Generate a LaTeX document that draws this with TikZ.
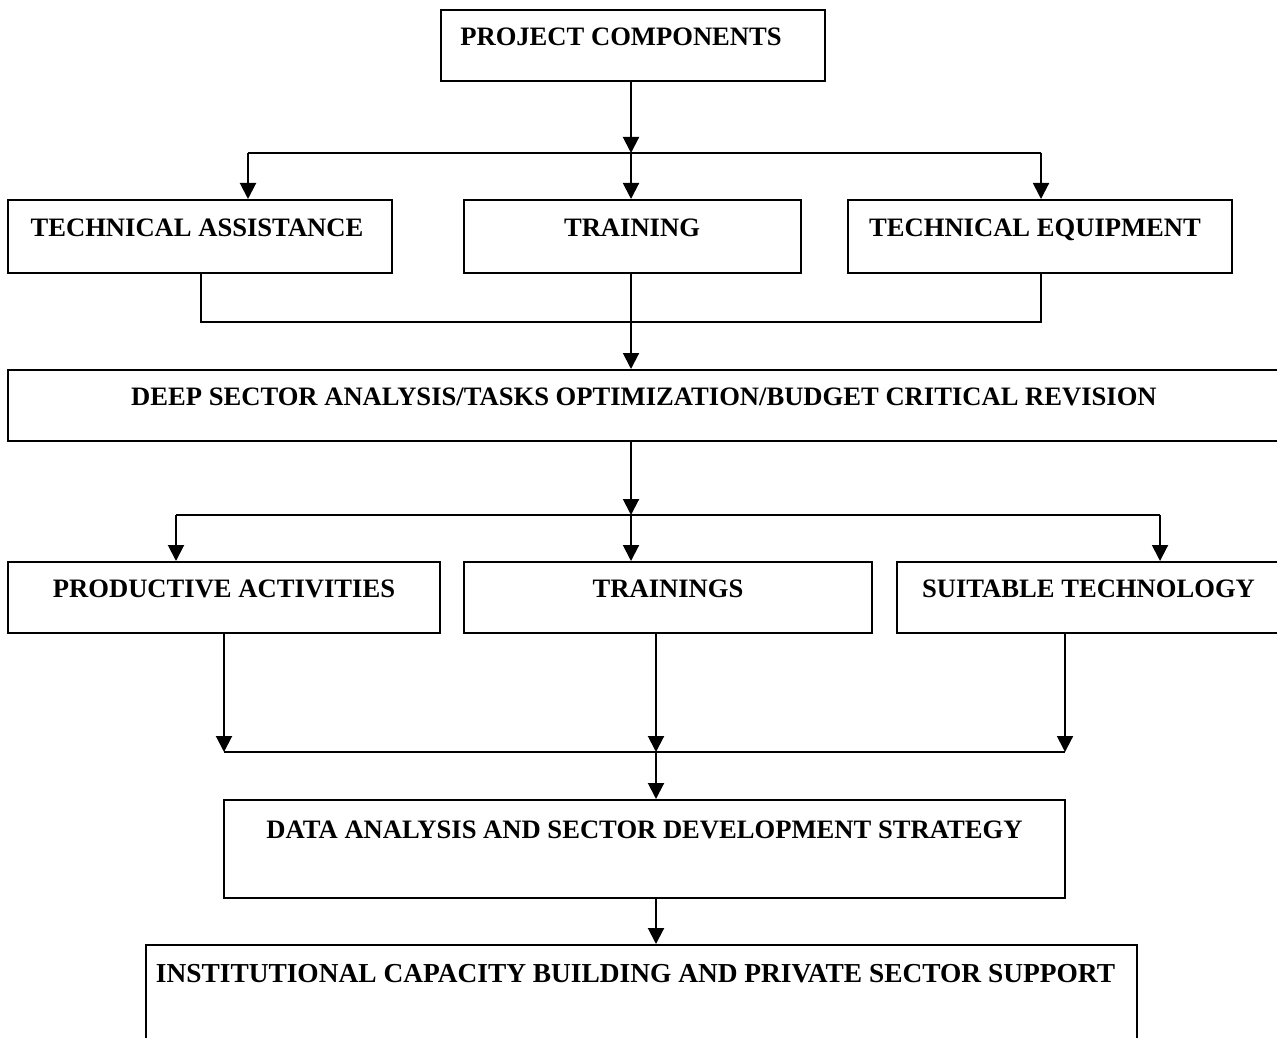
\documentclass[tikz,border=0pt]{standalone}
\usepackage{fontspec}
\setmainfont{Liberation Serif}
\usetikzlibrary{arrows.meta}
\tikzstyle{caja} = [draw, rectangle, line width=1pt, inner sep=0pt, text height=5pt, text depth=5pt, font=\fontsize{13.3}{16}\selectfont\bfseries]
\tikzstyle{flecha} = [draw, -{Triangle[width=8pt,length=8pt]}, line width=1pt]
\tikzstyle{linea} = [draw, line width=1pt]

\begin{document}
\begin{tikzpicture}[x=0.5pt,y=-0.5pt]
	\useasboundingbox (0,0) rectangle (1277,1037);
	\clip (0,0) rectangle (1277,1037);
	
		% Componentes del proyecto
		\node[caja, minimum width=192pt, minimum height=35.5pt] (pc) at (633,45.5) {PROJECT COMPONENTS\kern12pt};
		
		% Primera fila
		\node[caja, minimum width=192pt, minimum height=36.5pt] (ta) at (200,236.5) {TECHNICAL ASSISTANCE\kern3pt};
		\node[caja, minimum width=168.5pt, minimum height=36.5pt] (tr) at (632,236.5) {TRAINING};
		\node[caja, minimum width=192pt, minimum height=36.5pt] (te) at (1040,236.5) {TECHNICAL EQUIPMENT\kern5pt};
		
		% Analisis
		\node[caja, minimum width=636pt, minimum height=35.5pt] (deep) at (644,405.5) {DEEP SECTOR ANALYSIS/TASKS OPTIMIZATION/BUDGET CRITICAL REVISION};
		
		% Segunda fila
		\node[caja, minimum width=216pt, minimum height=35.5pt] (pa) at (224,597.5) {PRODUCTIVE ACTIVITIES};
		\node[caja, minimum width=204pt, minimum height=35.5pt] (trs) at (668,597.5) {TRAININGS};
		\node[caja, minimum width=191.5pt, minimum height=35.5pt] (st) at (1088.5,597.5) {SUITABLE TECHNOLOGY};
		
		% Estrategia y apoyo
		\node[caja, minimum width=420.5pt, minimum height=49pt, text height=0pt, text depth=11pt] (data) at (644.5,849) {DATA ANALYSIS AND SECTOR DEVELOPMENT STRATEGY};
		\node[caja, minimum width=495.5pt, minimum height=55pt, text height=0pt, text depth=18pt, font=\fontsize{13.7}{16}\selectfont\bfseries] (inst) at (641.5,1000) {INSTITUTIONAL CAPACITY BUILDING AND PRIVATE SECTOR SUPPORT\kern6pt};
		
		% Reparto hacia la primera fila
		\coordinate (r1) at (631,153);
		\coordinate (r1a) at (248,153);
		\coordinate (r1b) at (1041,153);
		\draw[flecha] (pc.south -| r1) -- (r1);
		\draw[linea] (r1a) -- (r1b);
		\draw[flecha] (r1a) -- (r1a |- ta.north);
		\draw[flecha] (r1) -- (r1 |- tr.north);
		\draw[flecha] (r1b) -- (r1b |- te.north);
		
		% Union hacia el analisis
		\coordinate (u1a) at (201,322);
		\coordinate (u1b) at (1041,322);
		\draw[linea] (ta.south -| u1a) -- (u1a) -- (u1b) -- (te.south -| u1b);
		\draw[flecha] (tr.south -| r1) -- (r1 |- deep.north);
		
		% Reparto hacia la segunda fila
		\coordinate (r2) at (631,515);
		\coordinate (r2a) at (176,515);
		\coordinate (r2b) at (1160,515);
		\draw[flecha] (deep.south -| r2) -- (r2);
		\draw[linea] (r2a) -- (r2b);
		\draw[flecha] (r2a) -- (r2a |- pa.north);
		\draw[flecha] (r2) -- (r2 |- trs.north);
		\draw[flecha] (r2b) -- (r2b |- st.north);
		
		% Union hacia la estrategia
		\coordinate (u2a) at (224,752);
		\coordinate (u2) at (656,752);
		\coordinate (u2b) at (1065,752);
		\draw[flecha] (pa.south -| u2a) -- (u2a);
		\draw[flecha] (trs.south -| u2) -- (u2);
		\draw[flecha] (st.south -| u2b) -- (u2b);
		\draw[linea] (u2a) -- (u2b);
		\draw[flecha] (u2) -- (u2 |- data.north);
		\draw[flecha] (data.south -| u2) -- (u2 |- inst.north);
	\end{tikzpicture}
\end{document}
